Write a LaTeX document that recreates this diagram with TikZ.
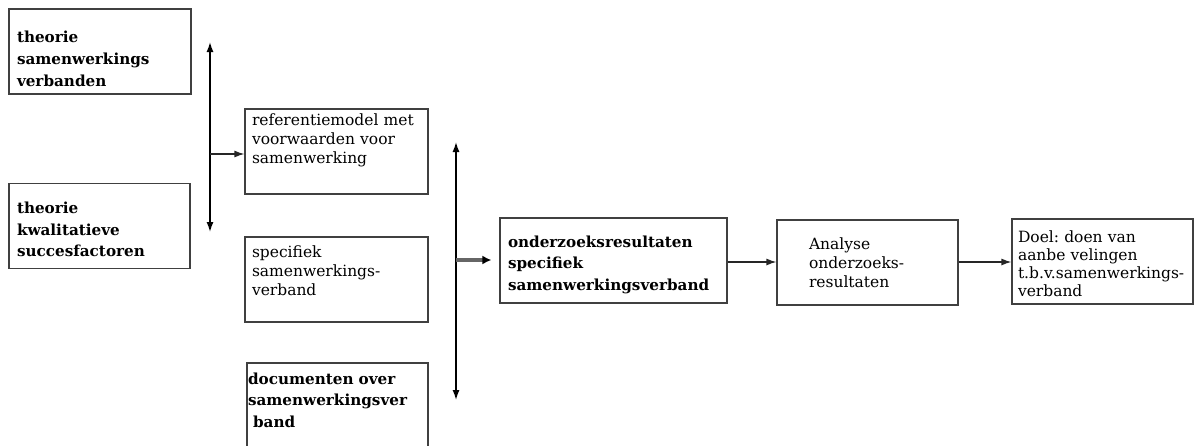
\documentclass[tikz,border=0pt]{standalone}
\usepackage{fontspec}
\setmainfont{DejaVu Serif}
\usepackage{tikz}
\usetikzlibrary{arrows.meta}

\begin{document}
\begin{tikzpicture}[x=1pt, y=-1pt, >={Latex[length=10pt,width=7pt]},
    blok/.style={draw=black!75, line width=1.2pt, rectangle, align=left, inner sep=0pt,
        minimum height=85pt, font=\bfseries\fontsize{15.2}{21.5}\selectfont},
    kleinblok/.style={blok, font=\fontsize{15.5}{19}\selectfont},
    pijl/.style={->, line width=1.2pt, draw=black!85}]
    \useasboundingbox (0,0) rectangle (1196,445);

    % Theorie - left column
    \node[blok, minimum width=182pt, text width=166pt, font=\bfseries\fontsize{15.2}{22}\selectfont] (samenwerking) at (100,51.5) {\rule{0pt}{27pt}theorie\\
        samenwerkings\\
        verbanden};
    \node[blok, minimum width=181pt, text width=165pt] (succes) at (99.5,226) {\rule{0pt}{19pt}theorie\\
        kwalitatieve\\
        succesfactoren};

    % Middle column
    \node[kleinblok, minimum width=183pt, text width=169pt] (referentie) at (336.5,151.5) {referentiemodel met\\
        voorwaarden voor\\
        samenwerking\\[6pt]
        \mbox{}};
    \node[kleinblok, minimum width=183pt, text width=169pt] (specifiek) at (336.5,279.5) {specifiek\\
        samenwerkings-\\
        verband\\[-2pt]
        \mbox{}};
    \node[blok, minimum width=181pt, minimum height=90pt, text width=179pt] (documenten) at (337.5,408) {documenten over\\
        samenwerkingsver\\
        \ band\\[-5pt]
        \mbox{}};

    % Results and analysis
    \node[blok, minimum width=227pt, text width=211pt] (resultaten) at (613.5,260.5) {\rule{0pt}{20pt}onderzoeksresultaten\\
        specifiek\\
        samenwerkingsverband};
    \node[kleinblok, minimum width=181pt, text width=117pt] (analyse) at (867.5,262.5) {Analyse\\
        onderzoeks-\\
        resultaten};
    \node[kleinblok, minimum width=181pt, text width=169pt, font=\fontsize{15.5}{18}\selectfont] (doel) at (1102.5,261.5) {\rule{0pt}{17pt}Doel:\ doen van\\
        aanbe velingen\\
        t.b.v.samenwerkings-\\
        verband};

    % Vertical bars
    \coordinate (links boven) at (210,42);
    \coordinate (links onder) at (210,232);
    \coordinate (links midden) at (210,154);
    \coordinate (rechts boven) at (456,142);
    \coordinate (rechts onder) at (456,400);
    \coordinate (rechts midden) at (456,260);

    \draw[<->, line width=1.4pt] (links boven) -- (links onder);
    \draw[<->, line width=1.4pt] (rechts boven) -- (rechts onder);

    % Edges between the boxes
    \draw[pijl] (links midden) -- (links midden -| referentie.west);
    \draw[line width=3.5pt, draw=black!60, -{Latex[length=9pt,width=9pt,black]}] (rechts midden) -- ([xshift=-8pt]rechts midden -| resultaten.west);
    \draw[pijl] (resultaten.east |- 0,262) -- (analyse.west |- 0,262);
    \draw[pijl] (analyse.east |- 0,262) -- (doel.west |- 0,262);
\end{tikzpicture}
\end{document}
